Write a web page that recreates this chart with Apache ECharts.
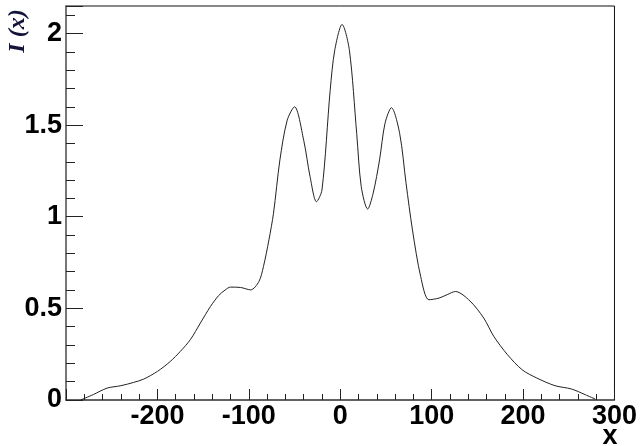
<!DOCTYPE html>
<html>
<head>
<meta charset="utf-8">
<script src="https://cdn.jsdelivr.net/npm/echarts@6/dist/echarts.min.js"></script>
<style>
  html, body { margin: 0; padding: 0; background: #fff; }
  #chart { width: 640px; height: 446px; }
</style>
</head>
<body>
<div id="chart"></div>
<script>
// x positions and intensity I(x)
const xs = [-284, -270, -255, -240, -226, -215, -200, -186, -175, -164, -153, -142, -133, -126,
  -120, -109, -98, -89, -84, -78, -73, -66, -58, -50, -40, -33, -26, -20, -11, -6, 2, 10, 18, 23,
  30, 36, 43, 49, 56, 65, 72, 79, 88, 97, 108, 117, 126, 142, 157, 168, 183, 199, 215, 235, 253,
  268, 279]
const ys = [0.0, 0.03, 0.065, 0.078, 0.096, 0.114, 0.156, 0.21, 0.265, 0.329, 0.42, 0.51, 0.57, 0.6,
  0.616, 0.614, 0.601, 0.646, 0.728, 0.874, 1.019, 1.31, 1.527, 1.6, 1.418, 1.219, 1.082, 1.146, 1.69, 1.909, 2.049, 1.909, 1.455, 1.164,
  1.042, 1.128, 1.31, 1.51, 1.595, 1.455, 1.183, 0.928, 0.674, 0.547, 0.556, 0.575, 0.592, 0.54, 0.447, 0.347, 0.247, 0.165, 0.12, 0.078, 0.06,
  0.029, 0.005]
const xTicks = [-200, -100, 0, 100, 200, 300]
const yTicks = [0, 0.5, 1, 1.5, 2]

let points = []
for (let i = 0; i < xs.length; i++) {
  points.push([xs[i], ys[i]])
}

const labelFont = {
  fontFamily: 'Liberation Sans',
  fontWeight: 'bold',
  fontSize: 27,
  color: '#000'
}

let chart = echarts.init(document.getElementById('chart'))
chart.setOption({
  animation: false,
  backgroundColor: '#fff',
  grid: {
    left: 66, right: 25, top: 6, bottom: 46,
    show: true,
    borderColor: '#111',
    borderWidth: 1
  },
  xAxis: {
    type: 'value',
    min: -300,
    max: 300,
    interval: 100,
    axisLine: { show: true, onZero: false, lineStyle: { color: '#555', width: 1.5 } },
    axisTick: { show: true, inside: true, length: 11, lineStyle: { color: '#222' } },
    minorTick: { show: true, splitNumber: 5, length: 6, lineStyle: { color: '#222' } },
    splitLine: { show: false },
    axisLabel: Object.assign({
      margin: 3,
      formatter: function (v) { return xTicks.indexOf(v) >= 0 ? String(v) : '' }
    }, labelFont)
  },
  yAxis: {
    type: 'value',
    min: 0,
    max: 2.15,
    interval: 0.5,
    axisLine: { show: true, onZero: false, lineStyle: { color: '#777', width: 2 } },
    axisTick: { show: true, inside: true, length: 17, lineStyle: { color: '#222' } },
    minorTick: { show: true, splitNumber: 5, length: 9, lineStyle: { color: '#222' } },
    splitLine: { show: false },
    axisLabel: Object.assign({
      margin: 4,
      formatter: function (v) { return yTicks.indexOf(v) >= 0 ? String(v) : '' }
    }, labelFont)
  },
  graphic: [
    {
      type: 'text',
      x: 610, y: 437,
      style: {
        text: 'x',
        fontFamily: 'Liberation Sans',
        fontWeight: 'bold',
        fontSize: 27,
        fill: '#000',
        align: 'center',
        verticalAlign: 'middle'
      }
    },
    {
      type: 'text',
      x: 18, y: 31,
      rotation: Math.PI / 2,
      style: {
        text: 'I (x)',
        fontFamily: 'Liberation Serif',
        fontStyle: 'italic',
        fontWeight: 'bold',
        fontSize: 24,
        fill: '#14143a',
        align: 'center',
        verticalAlign: 'middle'
      }
    }
  ],
  series: [{
    type: 'line',
    data: points,
    smooth: 0.3,
    symbol: 'none',
    lineStyle: { color: '#222', width: 1 }
  }]
})
</script>
</body>
</html>
